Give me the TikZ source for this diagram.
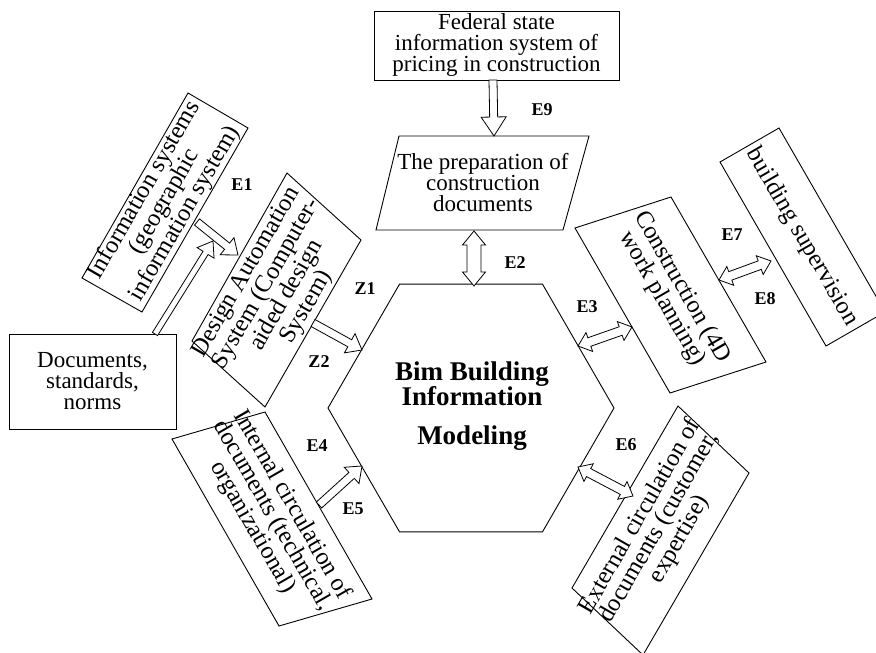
\documentclass[tikz,border=0pt]{standalone}
\usepackage{fontspec}
\setmainfont{Liberation Serif}
\usetikzlibrary{calc,shapes.geometric}

\tikzset{
  box/.style={draw, line width=0.9pt, line join=miter},
  txt/.style={align=center, font=\fontsize{23}{21}\selectfont, inner sep=0pt},
  rtxt/.style={align=center, font=\fontsize{24.5}{22}\selectfont, inner sep=0pt},
  hextxt/.style={align=center, font=\fontsize{27}{25}\selectfont\bfseries, inner sep=0pt},
  lab/.style={font=\fontsize{18}{18}\selectfont\bfseries, inner sep=0pt},
  hollow/.style={draw, fill=white, line width=0.8pt, line join=miter},
}

% single hollow arrow: start, end, shaft half width, head half width, head length
\newcommand\SingleArrow[5]{%
  \draw[hollow] let \p1=(#1), \p2=(#2), \n1={atan2(\y2-\y1,\x2-\x1)}, \n2={veclen(\x2-\x1,\y2-\y1)} in
  {[shift={(\p1)}, rotate=\n1]
   (0pt,#3pt) -- ({(\n2-#5)*1pt},#3pt) -- ({(\n2-#5)*1pt},#4pt) -- ({\n2*1pt},0pt)
   -- ({(\n2-#5)*1pt},-#4pt) -- ({(\n2-#5)*1pt},-#3pt) -- (0pt,-#3pt) -- cycle};
}
% double hollow arrow
\newcommand\DoubleArrow[5]{%
  \draw[hollow] let \p1=(#1), \p2=(#2), \n1={atan2(\y2-\y1,\x2-\x1)}, \n2={veclen(\x2-\x1,\y2-\y1)} in
  {[shift={(\p1)}, rotate=\n1]
   (0pt,0pt) -- (#5pt,#4pt) -- (#5pt,#3pt) -- ({(\n2-#5)*1pt},#3pt) -- ({(\n2-#5)*1pt},#4pt) -- ({\n2*1pt},0pt)
   -- ({(\n2-#5)*1pt},-#4pt) -- ({(\n2-#5)*1pt},-#3pt) -- (#5pt,-#3pt) -- (#5pt,-#4pt) -- cycle};
}

\begin{document}
\begin{tikzpicture}[x=1pt,y=-1pt]
\useasboundingbox (0,0) rectangle (876,653);
\clip (0,0) rectangle (876,653);

% ---------- boxes ----------
\node[box, minimum width=245pt, minimum height=69pt, txt] (fed) at (496.5,45.5)
  {Federal state\\information system of\\pricing in construction};
\node[box, minimum width=167pt, minimum height=95pt, txt] (docs) at (92.5,381.5)
  {Documents,\\standards,\\norms};

\draw[box] (399,136) -- (589,136) -- (563,230) -- (376,230) -- cycle;
\node[txt] (prep) at (483,183) {The preparation of\\construction\\documents};

\draw[box] (188,93) -- (248,128) -- (142,312) -- (82,278) -- cycle;
\node[rtxt, rotate=60] (info) at (165,202) {Information systems\\(geographic\\information system)};

\draw[box] (287,173) -- (361,240) -- (265,407) -- (192,341) -- cycle;
\node[rtxt, rotate=60] (cad) at (277,290) {Design Automation\\System (Computer-\\aided design\\System)};

\draw[box] (575,228) -- (671,197) -- (766,362) -- (670,393) -- cycle;
\node[rtxt, rotate=-60] (plan) at (672,293) {Construction (4D\\work planning)};

\draw[box] (720,162) -- (779,128) -- (885,312) -- (826,346) -- cycle;
\node[rtxt, rotate=-60] (sup) at (802,237) {building supervision};

\draw[box] (172,439) -- (265,412) -- (372,599) -- (279,626) -- cycle;
\node[rtxt, rotate=-60] (intc) at (272,516) {Internal circulation of\\documents (technical,\\organizational)};

\draw[box] (678,406) -- (749,473) -- (643,655) -- (572,588) -- cycle;
\node[rtxt, rotate=60] (extc) at (660,528) {External circulation of\\documents (customer,\\expertise)};

\node[box, regular polygon, regular polygon sides=6, minimum size=286pt, inner sep=0pt, outer sep=0pt] (hex) at (471,408) {};
\node[hextxt] (bim) at (472,406) {Bim Building\\Information\\[14pt]Modeling};

% ---------- connector end points ----------
\coordinate (fedout) at (493,80);   \coordinate (prepin) at (494,136);
\coordinate (prepout) at (474,231); \coordinate (hextop) at (474,286);
\coordinate (infoout) at (197,222); \coordinate (cadin1) at (238,255);
\coordinate (docsout) at (155,334); \coordinate (cadin2) at (213,241);
\coordinate (cadout) at (313,323);  \coordinate (hexZ) at (362,350);
\coordinate (intout) at (319,505);  \coordinate (hexE) at (362,466);
\coordinate (hexR1) at (578,346);   \coordinate (planin) at (632,327);
\coordinate (planout) at (719,280); \coordinate (supin) at (771,261);
\coordinate (hexR2) at (578,467);   \coordinate (extin) at (633,496);

% ---------- connectors ----------
\SingleArrow{fedout}{prepin}{4}{12.5}{19}
\DoubleArrow{prepout}{hextop}{7}{11.5}{14}
\SingleArrow{infoout}{cadin1}{4}{11}{14}
\SingleArrow{docsout}{cadin2}{3}{10}{14}
\SingleArrow{cadout}{hexZ}{4}{11}{14}
\SingleArrow{intout}{hexE}{4}{11}{14}
\DoubleArrow{hexR1}{planin}{4.5}{10}{12}
\DoubleArrow{planout}{supin}{4.5}{10}{12}
\DoubleArrow{hexR2}{extin}{4.5}{10}{12}

% ---------- labels ----------
\node[lab] (lE1) at (242,185) {E1};
\node[lab] (lE2) at (515,263) {E2};
\node[lab] (lE3) at (587,307) {E3};
\node[lab] (lE4) at (317,446) {E4};
\node[lab] (lE5) at (353,509) {E5};
\node[lab] (lE6) at (626,445) {E6};
\node[lab] (lE7) at (732,235) {E7};
\node[lab] (lE8) at (765,299) {E8};
\node[lab] (lE9) at (542,110) {E9};
\node[lab] (lZ1) at (365,289) {Z1};
\node[lab] (lZ2) at (319,362) {Z2};
\end{tikzpicture}
\end{document}
